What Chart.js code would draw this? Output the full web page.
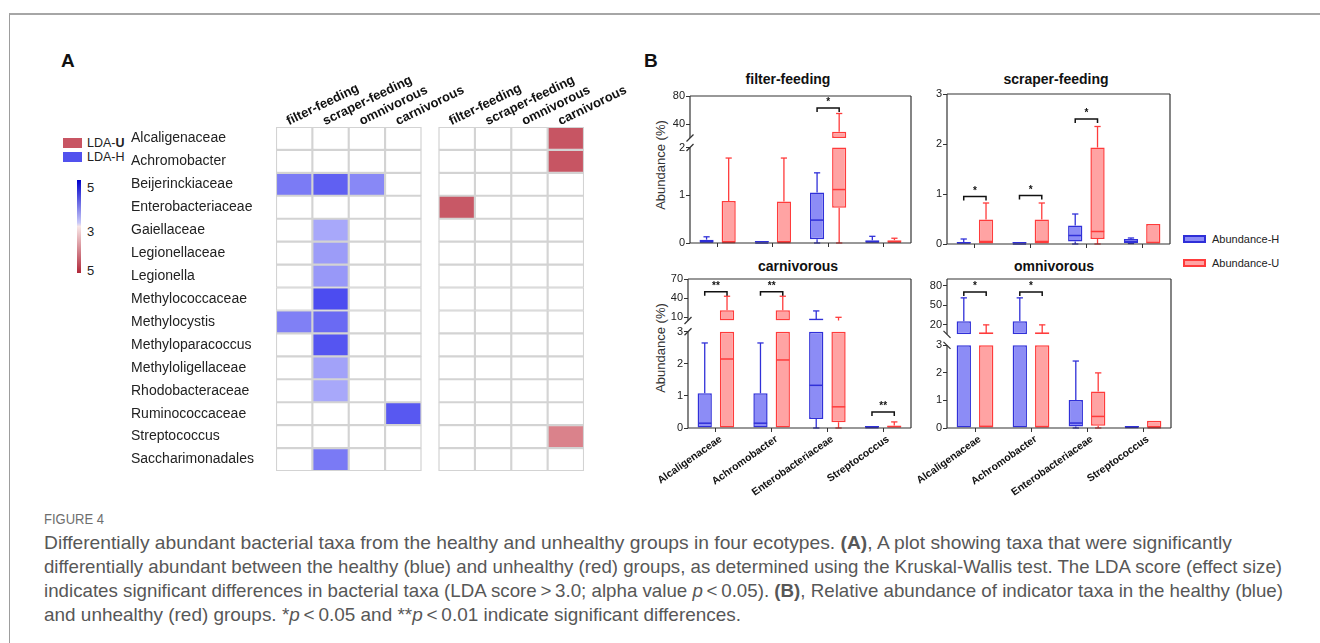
<!DOCTYPE html>
<html>
<head>
<meta charset="utf-8">
<title>Figure 4</title>
<script src="https://cdn.jsdelivr.net/npm/chart.js@4.4.1/dist/chart.umd.min.js"></script>
<style>
  html, body { margin: 0; padding: 0; background: #fff; }
  body { width: 1320px; height: 643px; position: relative; overflow: hidden; font-family: "Liberation Sans", Arial, Helvetica, sans-serif; color: #222; }
  .frame { position: absolute; left: 9px; top: 13px; width: 1400px; height: 700px; border-left: 1px solid #9d9d9d; border-top: 2px solid #a6a6a6; }
  canvas { position: absolute; }
  .t { position: absolute; white-space: nowrap; line-height: 1; }
  .panel { font-weight: bold; font-size: 19px; color: #111; }
  .ptitle { font-weight: bold; font-size: 14px; color: #111; transform: translate(-50%, -50%); }
  .ytitle { font-size: 13px; color: #333; transform: translate(-50%, -50%) rotate(-90deg); }
  .key { position: absolute; box-sizing: border-box; }
  .cap { position: absolute; left: 44px; white-space: nowrap; color: #575757; font-size: 19px; line-height: 24px; transform-origin: 0 50%; }
</style>
</head>
<body>
<div class="frame"></div>

<div class="t panel" style="left:61px;top:51px">A</div>
<div class="t panel" style="left:644px;top:51px">B</div>

<!-- panel A legend and colour bar -->
<div class="key" style="left:63px;top:138px;width:19px;height:10px;background:#c85563"></div>
<div class="t" style="left:87px;top:137px;font-size:12.5px">LDA-<b>U</b></div>
<div class="key" style="left:63px;top:152px;width:19px;height:10px;background:#5151ee"></div>
<div class="t" style="left:87px;top:151px;font-size:12.5px">LDA-H</div>
<div class="key" style="left:77px;top:180px;width:4px;height:93px;background:linear-gradient(to bottom,#0000cc 0%,#c8c8f8 46%,#f8e6e6 50%,#b0283a 100%)"></div>
<div class="t" style="left:87px;top:181px;font-size:13px">5</div>
<div class="t" style="left:87px;top:225px;font-size:13px">3</div>
<div class="t" style="left:87px;top:264px;font-size:13px">5</div>

<canvas id="heat" width="510" height="435" style="left:131px;top:40px"></canvas>

<!-- panel B titles and keys -->
<div class="t ptitle" style="left:788px;top:79px">filter-feeding</div>
<div class="t ptitle" style="left:1056px;top:79px">scraper-feeding</div>
<div class="t ptitle" style="left:798px;top:266px">carnivorous</div>
<div class="t ptitle" style="left:1054px;top:266px">omnivorous</div>
<div class="t ytitle" style="left:660px;top:165px">Abundance (%)</div>
<div class="t ytitle" style="left:660px;top:348px">Abundance (%)</div>
<div class="key" style="left:1183px;top:235px;width:23px;height:8px;background:#8c8cf6;border:2px solid #2f2fd8"></div>
<div class="t" style="left:1212px;top:234px;font-size:11px">Abundance-H</div>
<div class="key" style="left:1183px;top:259px;width:23px;height:8px;background:#ffa3a3;border:2px solid #ff3b3b"></div>
<div class="t" style="left:1212px;top:258px;font-size:11px">Abundance-U</div>

<canvas id="cFilter"></canvas>
<canvas id="cScraper"></canvas>
<canvas id="cCarn"></canvas>
<canvas id="cOmni"></canvas>

<div class="cap" data-w="60" style="top:507px;font-size:15px;color:#6e6e6e">FIGURE 4</div>
<div class="cap" data-w="1188" style="top:531px">Differentially abundant bacterial taxa from the healthy and unhealthy groups in four ecotypes. <b>(A)</b>, A plot showing taxa that were significantly</div>
<div class="cap" data-w="1238" style="top:555px">differentially abundant between the healthy (blue) and unhealthy (red) groups, as determined using the Kruskal-Wallis test. The LDA score (effect size)</div>
<div class="cap" data-w="1239" style="top:579px">indicates significant differences in bacterial taxa (LDA score&thinsp;&gt;&thinsp;3.0; alpha value <i>p</i>&thinsp;&lt;&thinsp;0.05). <b>(B)</b>, Relative abundance of indicator taxa in the healthy (blue)</div>
<div class="cap" data-w="697" style="top:603px">and unhealthy (red) groups. *<i>p</i>&thinsp;&lt;&thinsp;0.05 and **<i>p</i>&thinsp;&lt;&thinsp;0.01 indicate significant differences.</div>

<script>
// ---- panel A: LDA heatmap ----
const taxa = ['Alcaligenaceae', 'Achromobacter', 'Beijerinckiaceae', 'Enterobacteriaceae', 'Gaiellaceae',
  'Legionellaceae', 'Legionella', 'Methylococcaceae', 'Methylocystis', 'Methyloparacoccus',
  'Methyloligellaceae', 'Rhodobacteraceae', 'Ruminococcaceae', 'Streptococcus', 'Saccharimonadales'];
const ecotypes = ['filter-feeding', 'scraper-feeding', 'omnivorous', 'carnivorous'];

// LDA score per taxon for each ecotype column (null = not enriched)
const ldaH_filter  = [null, null, 3.79, null, null, null, null, null, 3.73, null, null, null, null, null, null];
const ldaH_scraper = [null, null, 4.11, null, 3.26, 3.40, 3.45, 4.34, 3.99, 4.24, 3.33, 3.26, null, null, 3.80];
const ldaH_omni    = [null, null, 3.64, null, null, null, null, null, null, null, null, null, null, null, null];
const ldaH_carn    = [null, null, null, null, null, null, null, null, null, null, null, null, 4.20, null, null];
const ldaU_filter  = [null, null, null, 4.17, null, null, null, null, null, null, null, null, null, null, null];
const ldaU_scraper = [null, null, null, null, null, null, null, null, null, null, null, null, null, null, null];
const ldaU_omni    = [null, null, null, null, null, null, null, null, null, null, null, null, null, null, null];
const ldaU_carn    = [4.21, 4.21, null, null, null, null, null, null, null, null, null, null, null, 3.57, null];

// ---- panel B: box plots ----
const boxTaxa = ['Alcaligenaceae', 'Achromobacter', 'Enterobacteriaceae', 'Streptococcus'];
// [min, q1, median, q3, max] per taxon
const filterH  = [[0, 0, 0.02, 0.07, 0.13], [0, 0, 0, 0.005, 0.005], [0, 0.08, 0.48, 1.06, 1.47], [0, 0, 0.02, 0.06, 0.14]];
const filterU  = [[0, 0, 0.01, 0.88, 1.78], [0, 0, 0.01, 0.87, 1.78], [0, 0.74, 1.12, 29, 55], [0, 0, 0.02, 0.06, 0.1]];
const scraperH = [[0, 0, 0.02, 0.04, 0.1], [0, 0, 0, 0.01, 0.01], [0, 0.05, 0.17, 0.37, 0.6], [0.01, 0.02, 0.05, 0.1, 0.12]];
const scraperU = [[0, 0, 0.05, 0.49, 0.82], [0, 0, 0.05, 0.49, 0.82], [0, 0.1, 0.25, 1.93, 2.35], [0, 0, 0.03, 0.4, 0.4]];
const carnH    = [[0, 0, 0.15, 1.08, 2.65], [0, 0, 0.15, 1.08, 2.65], [0, 0.28, 1.33, 7.5, 20], [0, 0, 0.01, 0.02, 0.02]];
const carnU    = [[0, 0, 2.15, 21, 43], [0, 0, 2.12, 21, 43], [0, 0.18, 0.66, 4.5, 10], [0, 0, 0.04, 0.08, 0.19]];
const omniH    = [[0, 0, 4, 25, 61], [0, 0, 4, 25, 61], [0, 0.05, 0.18, 1.02, 2.43], [0, 0, 0.02, 0.06, 0.06]];
const omniU    = [[0, 0, 0.06, 7, 19.5], [0, 0, 0.05, 7, 19.5], [0, 0.08, 0.42, 1.32, 2.0], [0, 0, 0.01, 0.26, 0.26]];

// significance brackets: [taxon index, height, label]
const filterSig  = [[2, 63, '*']];
const scraperSig = [[0, 0.95, '*'], [1, 0.97, '*'], [2, 2.5, '*']];
const carnSig    = [[0, 50, '**'], [1, 50, '**'], [3, 0.5, '**']];
const omniSig    = [[0, 70, '*'], [1, 70, '*']];

// y tick labels (lower / upper part of broken axes)
const filterTicksLow = [0, 1, 2], filterTicksHigh = [40, 80];
const scraperTicks = [0, 1, 2, 3];
const carnTicksLow = [0, 1, 2, 3], carnTicksHigh = [10, 40, 70];
const omniTicksLow = [0, 1, 2, 3], omniTicksHigh = [20, 50, 80];

const H_FILL = '#8c8cf6', H_LINE = '#3030d8';
const U_FILL = '#ffa3a3', U_LINE = '#ff3b3b';
const GAP = 0.47;

Chart.defaults.font.family = '"Liberation Sans", Arial, Helvetica, sans-serif';
Chart.defaults.color = '#222';

const blueOf = v => { const t = (v - 3) / 2; const c = Math.round(190 - 170 * t); return `rgb(${c},${c},${Math.round(252 - 18 * t)})`; };
const redOf = v => { const t = (v - 3) / 2; return `rgb(${Math.round(235 - 60 * t)},${Math.round(170 - 140 * t)},${Math.round(175 - 125 * t)})`; };

const heatCols = [
  ...[ldaH_filter, ldaH_scraper, ldaH_omni, ldaH_carn].map((lda, i) => ({ name: ecotypes[i], lda, color: blueOf })),
  null,
  ...[ldaU_filter, ldaU_scraper, ldaU_omni, ldaU_carn].map((lda, i) => ({ name: ecotypes[i], lda, color: redOf }))
];

const heatSets = heatCols.map(c => c ? {
  data: taxa.map(() => 1),
  backgroundColor: c.lda.map(v => v == null ? '#ffffff' : c.color(v)),
  borderColor: '#d3d3d3', borderWidth: 1.4, borderSkipped: false,
  barPercentage: 1, categoryPercentage: 1
} : {
  data: taxa.map(() => GAP), backgroundColor: 'rgba(0,0,0,0)', borderWidth: 0,
  barPercentage: 1, categoryPercentage: 1
});

let acc = 0;
const headTicks = [], headNames = [];
heatCols.forEach((c, k) => {
  const w = heatSets[k].data[0];
  if (c) { headTicks.push(acc + w / 2); headNames.push(c.name); }
  acc += w;
});

new Chart(document.getElementById('heat'), {
  type: 'bar',
  data: { labels: taxa, datasets: heatSets },
  options: {
    indexAxis: 'y', responsive: false, animation: false,
    layout: { padding: { left: 0, right: 57, top: 0, bottom: 4 } },
    plugins: { legend: { display: false }, tooltip: { enabled: false } },
    scales: {
      x: {
        type: 'linear', position: 'top', stacked: true, min: 0, max: acc,
        grid: { display: false }, border: { display: false },
        ticks: { autoSkip: false, minRotation: 26, maxRotation: 26, padding: -10, color: '#111',
          font: { size: 13, weight: 'bold' }, callback: (v, i) => headNames[i] },
        afterBuildTicks: s => { s.ticks = headTicks.map(v => ({ value: v })); },
        afterFit: s => { s.height = 87; s.paddingLeft = 0; s.paddingRight = 0; }
      },
      y: {
        type: 'category', stacked: true,
        grid: { display: false }, border: { display: false },
        ticks: { crossAlign: 'far', padding: 0, color: '#222', font: { size: 14 } },
        afterFit: s => { s.width = 145; s.paddingTop = 0; s.paddingBottom = 0; }
      }
    }
  }
});

// whiskers, medians, brackets and the broken-axis frame
function decor(p) {
  return {
    id: 'decor',
    afterDatasetsDraw(chart) {
      const ctx = chart.ctx, lo = chart.scales.yLow, hi = chart.scales.yHigh;
      const lowTop = p.low[p.low.length - 1];
      const segs = [[lo, lo.min, lowTop]];
      if (hi) segs.push([hi, hi.min, hi.max]);
      const ypx = v => { for (const [s, a, b] of segs) if (v >= a && v <= b) return s.getPixelForValue(v); return null; };
      const line = (x1, y1, x2, y2) => { ctx.beginPath(); ctx.moveTo(x1, y1); ctx.lineTo(x2, y2); ctx.stroke(); };
      const vseg = (x, a, b) => segs.forEach(([s, mn, mx]) => {
        const a2 = Math.max(a, mn), b2 = Math.min(b, mx);
        if (a2 < b2) line(x, s.getPixelForValue(a2), x, s.getPixelForValue(b2));
      });
      ctx.save();
      [[p.H, H_LINE], [p.U, U_LINE]].forEach(([stats, color], k) => {
        const bars = chart.getDatasetMeta(k).data;
        ctx.strokeStyle = color;
        stats.forEach((s, i) => {
          const b = bars[i], cap = b.width * 0.22, hw = b.width / 2 - 0.5;
          ctx.lineWidth = 1.3;
          vseg(b.x, s[3], s[4]);
          vseg(b.x, s[0], s[1]);
          if (s[4] > s[3]) { const y = ypx(s[4]); if (y !== null) line(b.x - cap, y, b.x + cap, y); }
          if (s[0] < s[1]) { const y = ypx(s[0]); if (y !== null) line(b.x - cap, y, b.x + cap, y); }
          const ym = ypx(s[2]);
          if (ym !== null) { ctx.lineWidth = 1.5; line(b.x - hw, ym, b.x + hw, ym); }
        });
      });

      const hb = chart.getDatasetMeta(0).data, ub = chart.getDatasetMeta(1).data;
      ctx.strokeStyle = '#111'; ctx.fillStyle = '#111'; ctx.lineWidth = 1.5;
      ctx.font = 'bold 10px "Liberation Sans", Arial, sans-serif';
      ctx.textAlign = 'center'; ctx.textBaseline = 'alphabetic';
      p.sig.forEach(([i, v, label]) => {
        const y = ypx(v), x1 = hb[i].x, x2 = ub[i].x;
        ctx.beginPath(); ctx.moveTo(x1, y + 4); ctx.lineTo(x1, y); ctx.lineTo(x2, y); ctx.lineTo(x2, y + 4); ctx.stroke();
        ctx.fillText(label, (x1 + x2) / 2, y - 3);
      });

      const { left, right, top, bottom } = chart.chartArea;
      ctx.strokeStyle = '#333'; ctx.lineWidth = 1.2;
      line(left, top, right, top);
      line(right, top, right, bottom);
      line(left, bottom, right, bottom);
      if (hi) {
        const yb = lo.getPixelForValue(lowTop), yt = hi.bottom, d = 3.5 * p.brk;
        line(left, bottom, left, yb);
        line(left, yt, left, top);
        line(left - 3.5, yb + d, left + 3.5, yb - d);
        line(left - 3.5, yt + d, left + 3.5, yt - d);
      } else {
        line(left, bottom, left, top);
      }
      ctx.restore();
    }
  };
}

function yAxis(min, max, ticks, stackWeight, weight) {
  return {
    type: 'linear', position: 'left', stack: 'v', stackWeight, weight, min, max, stacked: false,
    grid: { display: true, drawOnChartArea: false, drawTicks: true, tickLength: 4, color: '#333', lineWidth: 1 },
    border: { display: false },
    ticks: { autoSkip: false, font: { size: 11 }, color: '#222', padding: 1 },
    afterBuildTicks: s => { s.ticks = ticks.map(v => ({ value: v })); },
    afterFit: s => { s.width = 40; s.paddingTop = 0; s.paddingBottom = 0; }
  };
}

const panels = [
  { id: 'cFilter', area: [690, 96, 221, 147], H: filterH, U: filterU, sig: filterSig,
    low: filterTicksLow, lowMax: 2.2, high: filterTicksHigh, highMin: 20, highMax: 80, split: [42, 105], labels: false, brk: 1 },
  { id: 'cScraper', area: [947, 94, 223, 150], H: scraperH, U: scraperU, sig: scraperSig,
    low: scraperTicks, lowMax: 3, labels: false, brk: 1 },
  { id: 'cCarn', area: [688, 279, 223, 149], H: carnH, U: carnU, sig: carnSig,
    low: carnTicksLow, lowMax: 3.35, high: carnTicksHigh, highMin: 5, highMax: 70, split: [41.5, 107.5], labels: true, brk: 1 },
  { id: 'cOmni', area: [947, 279, 224, 149], H: omniH, U: omniU, sig: omniSig,
    low: omniTicksLow, lowMax: 3.4, high: omniTicksHigh, highMin: 5, highMax: 90, split: [55.3, 93.7], labels: true, brk: -1 }
];

panels.forEach(p => {
  const [L, T, W, Hh] = p.area;
  const xh = p.labels ? 75 : 12;
  const cv = document.getElementById(p.id);
  cv.width = W + 50; cv.height = Hh + 10 + xh;
  cv.style.left = (L - 40) + 'px'; cv.style.top = (T - 10) + 'px';
  const lowTop = p.low[p.low.length - 1];
  const lowBar = s => [s[1], Math.min(s[3], lowTop)];
  const highBar = s => (s[3] > p.highMin ? [Math.max(s[1], p.highMin), s[3]] : null);
  const set = (data, axis, stack, fill, line) => ({
    data, yAxisID: axis, stack, backgroundColor: fill, borderColor: line, borderWidth: 1.5,
    borderSkipped: false, barPercentage: 0.64, categoryPercentage: 0.8, minBarLength: 2
  });
  const datasets = [
    set(p.H.map(lowBar), 'yLow', 'H', H_FILL, H_LINE),
    set(p.U.map(lowBar), 'yLow', 'U', U_FILL, U_LINE)
  ];
  const scales = {
    x: {
      type: 'category', offset: true,
      grid: { display: true, drawOnChartArea: false, offset: false, tickLength: 4, color: '#333' },
      border: { display: false },
      ticks: { display: p.labels, autoSkip: false, minRotation: 35, maxRotation: 35, padding: 1, labelOffset: 5,
        color: '#111', font: { size: 10.5, weight: 'bold' } },
      afterFit: s => { s.height = xh; s.paddingLeft = 0; s.paddingRight = 0; }
    },
    yLow: yAxis(0, p.lowMax, p.low, p.split ? p.split[1] : 1, 0)
  };
  if (p.high) {
    datasets.push(set(p.H.map(highBar), 'yHigh', 'H', H_FILL, H_LINE), set(p.U.map(highBar), 'yHigh', 'U', U_FILL, U_LINE));
    scales.yHigh = yAxis(p.highMin, p.highMax, p.high, p.split[0], 1);
  }
  new Chart(cv, {
    type: 'bar',
    data: { labels: boxTaxa, datasets },
    options: {
      responsive: false, animation: false,
      layout: { padding: { left: 0, right: 10, top: 10, bottom: 0 } },
      plugins: { legend: { display: false }, tooltip: { enabled: false } },
      scales
    },
    plugins: [decor(p)]
  });
});

// squeeze caption lines to the widths they take in the figure (condensed face)
document.querySelectorAll('.cap').forEach(el => {
  el.style.transform = `scaleX(${+el.dataset.w / el.getBoundingClientRect().width})`;
});
</script>
</body>
</html>
